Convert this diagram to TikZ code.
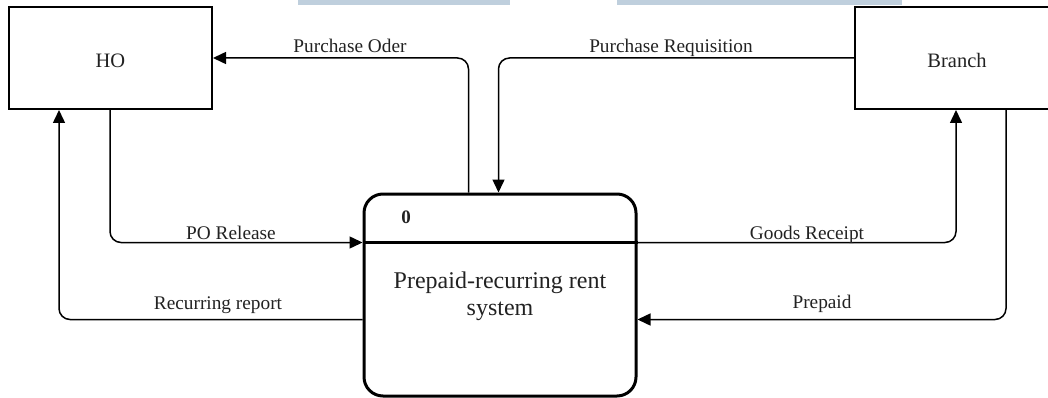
\documentclass[tikz,border=0pt]{standalone}
\usepackage{fontspec}
\setmainfont{Liberation Serif}
\usetikzlibrary{arrows.meta,calc}
\definecolor{bandblue}{HTML}{BFCFDD}
\definecolor{txt}{HTML}{222222}
\begin{document}
\begin{tikzpicture}[x=1pt,y=-1pt,
  entity/.style={draw=black,line width=2pt,fill=white,inner sep=0pt,text=txt,
    text height=20pt,text depth=0pt,font=\fontsize{20.5}{24}\selectfont},
  procbox/.style={draw=black,line width=3pt,rounded corners=19pt,inner sep=0pt},
  flow/.style={draw=black,line width=1.5pt,rounded corners=11pt,-{Triangle[length=13pt,width=12pt]}},
  lbl/.style={anchor=base,inner sep=0pt,text=txt,font=\fontsize{19.3}{23}\selectfont},
  ptext/.style={align=center,inner sep=0pt,text=txt,font=\fontsize{24}{27}\selectfont}
]
\useasboundingbox (0,0) rectangle (1048,398);
% faint band at the top
\fill[bandblue] (298,0) rectangle (510,5);
\fill[bandblue] (617,0) rectangle (902,5);

% external entities
\node[entity,minimum width=203pt,minimum height=102pt] (ho) at (110.5,58) {HO};
\node[entity,minimum width=204pt,minimum height=102pt] (br) at (957,58) {Branch};

% process
\node[procbox,minimum width=272pt,minimum height=202pt] (proc) at (500,295) {};
\draw[line width=3pt] ($(proc.north west)+(0,50)$) -- ($(proc.north east)+(0,50)$);
\node[anchor=base,inner sep=0pt,text=txt,font=\bfseries\fontsize{19}{22}\selectfont] (pid) at (406,223) {0};
\node[ptext,anchor=base] (pname) at (500,315) {Prepaid-recurring rent\\system};

% connectors
\draw[flow] ($(proc.north west)+(106,0)$) |- (ho.east);
\draw[flow] (br.west) -| ($(proc.north west)+(136,0)$);
\draw[flow] ($(ho.south west)+(102,0)$) |- ($(proc.north west)+(0,50)$);
\draw[flow] ($(proc.north west)+(0,127)$) -| ($(ho.south west)+(51,0)$);
\draw[flow] ($(proc.north east)+(0,50)$) -| ($(br.south west)+(102,0)$);
\draw[flow] ($(br.south west)+(152,0)$) |- ($(proc.north east)+(0,127)$);

% labels
\node[lbl] (l1) at (350,53) {Purchase Oder};
\node[lbl] (l2) at (671,53) {Purchase Requisition};
\node[lbl] (l3) at (231,239) {PO Release};
\node[lbl] (l4) at (218,309) {Recurring report};
\node[lbl] (l5) at (807,239) {Goods Receipt};
\node[lbl] (l6) at (822,308) {Prepaid};
\end{tikzpicture}
\end{document}
